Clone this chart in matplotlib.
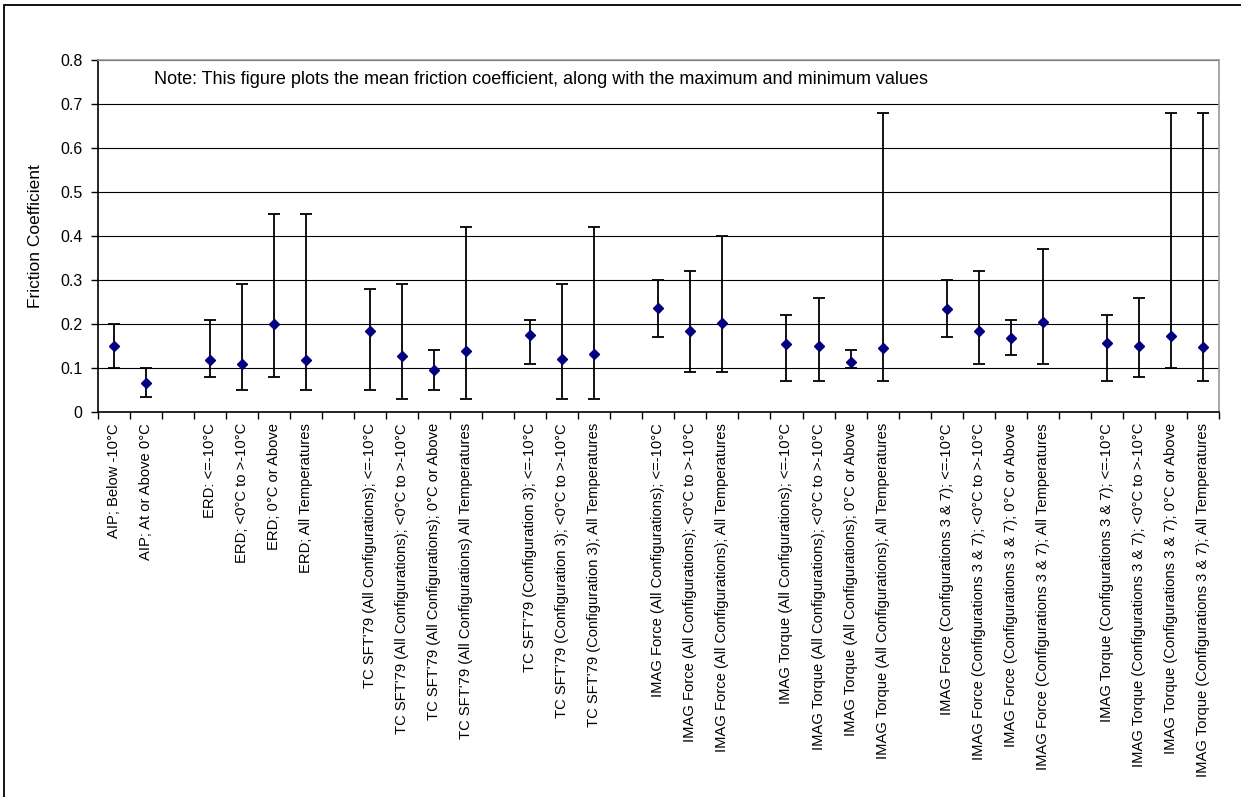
import numpy as np
import matplotlib
matplotlib.use("Agg")
import matplotlib.pyplot as plt
from matplotlib.patches import Rectangle

plt.rcParams['font.family'] = ['Liberation Sans', 'DejaVu Sans']

nan = np.nan
categories = [
    "AIP; Below -10°C", "AIP; At or Above 0°C", "",
    "ERD: <=-10°C", "ERD; <0°C to >-10°C", "ERD; 0°C or Above", "ERD; All Temperatures", "",
    "TC SFT'79 (All Configurations); <=-10°C", "TC SFT'79 (All Configurations); <0°C to >-10°C",
    "TC SFT'79 (All Configurations); 0°C or Above", "TC SFT'79 (All Configurations) All Temperatures", "",
    "TC SFT'79 (Configuration 3); <=-10°C", "TC SFT'79 (Configuration 3); <0°C to >-10°C",
    "TC SFT'79 (Configuration 3); All Temperatures", "",
    "IMAG Force (All Configurations); <=-10°C", "IMAG Force (All Configurations); <0°C to >-10°C",
    "IMAG Force (All Configurations); All Temperatures", "",
    "IMAG Torque (All Configurations); <=-10°C", "IMAG Torque (All Configurations); <0°C to >-10°C",
    "IMAG Torque (All Configurations); 0°C or Above", "IMAG Torque (All Configurations); All Temperatures", "",
    "IMAG Force (Configurations 3 & 7); <=-10°C", "IMAG Force (Configurations 3 & 7); <0°C to >-10°C",
    "IMAG Force (Configurations 3 & 7); 0°C or Above", "IMAG Force (Configurations 3 & 7); All Temperatures", "",
    "IMAG Torque (Configurations 3 & 7); <=-10°C", "IMAG Torque (Configurations 3 & 7); <0°C to >-10°C",
    "IMAG Torque (Configurations 3 & 7); 0°C or Above", "IMAG Torque (Configurations 3 & 7); All Temperatures",
]
mean_vals = [0.149, 0.066, nan,
             0.119, 0.110, 0.199, 0.119, nan,
             0.184, 0.128, 0.096, 0.138, nan,
             0.175, 0.121, 0.131, nan,
             0.237, 0.184, 0.203, nan,
             0.154, 0.150, 0.114, 0.145, nan,
             0.234, 0.185, 0.168, 0.205, nan,
             0.157, 0.151, 0.172, 0.148]
min_vals = [0.10, 0.033, nan,
            0.08, 0.05, 0.08, 0.05, nan,
            0.05, 0.03, 0.05, 0.03, nan,
            0.11, 0.03, 0.03, nan,
            0.17, 0.09, 0.09, nan,
            0.07, 0.07, 0.10, 0.07, nan,
            0.17, 0.11, 0.13, 0.11, nan,
            0.07, 0.08, 0.10, 0.07]
max_vals = [0.20, 0.10, nan,
            0.21, 0.29, 0.45, 0.45, nan,
            0.28, 0.29, 0.14, 0.42, nan,
            0.21, 0.29, 0.42, nan,
            0.30, 0.32, 0.40, nan,
            0.22, 0.26, 0.14, 0.68, nan,
            0.30, 0.32, 0.21, 0.37, nan,
            0.22, 0.26, 0.68, 0.68]
y_ticks = [0, 0.1, 0.2, 0.3, 0.4, 0.5, 0.6, 0.7, 0.8]
y_tick_labels = ["0", "0.1", "0.2", "0.3", "0.4", "0.5", "0.6", "0.7", "0.8"]
note = "Note: This figure plots the mean friction coefficient, along with the maximum and minimum values"

W, H = 1241, 797
fig = plt.figure(figsize=(W / 100, H / 100), dpi=100)
# chart-area border
fig.patches.append(Rectangle((4 / W, -0.01), 1.05, 1 - 5 / H + 0.01, transform=fig.transFigure,
                             fill=False, edgecolor='black', linewidth=1.3))

ax = fig.add_axes([97.7 / W, 1 - 412 / H, (1219 - 97.7) / W, (412 - 60) / H])

n = len(categories)
x = np.arange(n)
m = np.array(mean_vals, dtype=float)
lo = np.array(min_vals, dtype=float)
hi = np.array(max_vals, dtype=float)
ok = ~np.isnan(m)
ax.errorbar(x[ok], m[ok], yerr=[m[ok] - lo[ok], hi[ok] - m[ok]], fmt='none',
            ecolor='black', elinewidth=1.3, capsize=4, capthick=1.3, zorder=3)
ax.plot(x[ok], m[ok], linestyle='none', marker='D', markersize=5.6,
        color='#000080', markeredgecolor='#000080', markeredgewidth=1, zorder=4)

ax.set_xlim(-0.5, n - 0.5)
ax.set_ylim(0, 0.8)
ax.set_yticks(y_ticks)
ax.set_yticklabels(y_tick_labels, fontsize=11.5)
ax.yaxis.grid(True, color='black', linewidth=0.8)
ax.set_axisbelow(True)

ax.set_xticks(x)
ax.set_xticklabels(categories, rotation=90, fontsize=10.6, va='top', ha='center')
ax.tick_params(axis='x', which='major', length=0, pad=8)
ax.set_xticks(np.arange(n + 1) - 0.5, minor=True)
ax.tick_params(axis='x', which='minor', length=5, width=1, direction='out')
ax.tick_params(axis='y', length=5, width=1, direction='out', pad=6)

for s in ['top', 'right']:
    ax.spines[s].set_color('#999999')
    ax.spines[s].set_linewidth(1.2)
for s in ['left', 'bottom']:
    ax.spines[s].set_color('black')
    ax.spines[s].set_linewidth(1.2)

ax.set_ylabel("Friction Coefficient", fontsize=12.5, labelpad=12)
ax.text(154 / W, 1 - 80 / H, note, transform=fig.transFigure, fontsize=13,
        va='center', ha='left')

fig.savefig("out.png", dpi=100)
